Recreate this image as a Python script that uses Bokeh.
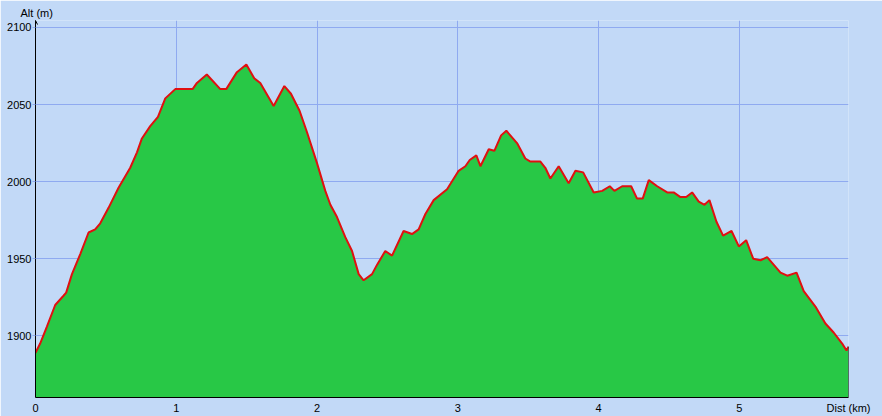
from bokeh.plotting import figure
from bokeh.models import FixedTicker, Range1d, Arrow, OpenHead
from bokeh.embed import file_html
from bokeh.resources import INLINE

dist = [0.000, 0.033, 0.081, 0.140, 0.199, 0.218, 0.259, 0.318, 0.377, 0.424,
        0.460, 0.519, 0.590, 0.673, 0.721, 0.756, 0.815, 0.870, 0.922, 0.993,
        1.116, 1.147, 1.217, 1.313, 1.355, 1.431, 1.498, 1.554, 1.597, 1.692,
        1.768, 1.815, 1.876, 1.929, 2.000, 2.059, 2.095, 2.142, 2.201, 2.249,
        2.296, 2.331, 2.391, 2.426, 2.485, 2.533, 2.615, 2.675, 2.722, 2.770,
        2.829, 2.924, 3.006, 3.054, 3.085, 3.132, 3.161, 3.220, 3.260, 3.308,
        3.345, 3.421, 3.480, 3.516, 3.587, 3.622, 3.658, 3.717, 3.788, 3.836,
        3.891, 3.966, 4.026, 4.080, 4.113, 4.168, 4.232, 4.274, 4.314, 4.357,
        4.417, 4.488, 4.534, 4.582, 4.623, 4.665, 4.712, 4.753, 4.788, 4.838,
        4.885, 4.945, 4.997, 5.049, 5.099, 5.151, 5.198, 5.293, 5.341, 5.407,
        5.458, 5.541, 5.612, 5.672, 5.731, 5.762, 5.776]
alt = [1889, 1895, 1906, 1920, 1926, 1928, 1940, 1953, 1967, 1969,
       1973, 1983, 1996, 2009, 2019, 2028, 2036, 2042, 2054, 2060,
       2060, 2064, 2069.5, 2060, 2060, 2071, 2076, 2067, 2064, 2049,
       2062, 2057, 2046, 2032, 2012, 1994, 1985, 1977, 1964, 1955,
       1940, 1936, 1940, 1946, 1955, 1952, 1968, 1966, 1969, 1979,
       1988, 1995, 2007, 2010, 2014, 2017, 2010, 2021, 2020, 2030,
       2033, 2025, 2015, 2013, 2013, 2009, 2002, 2010, 1999, 2007,
       2006, 1993, 1994, 1997, 1994, 1997, 1997, 1989, 1989, 2001,
       1997, 1993, 1993, 1990, 1990, 1993, 1987, 1985, 1988, 1974,
       1965, 1968, 1958, 1962, 1950, 1949, 1951, 1941, 1939, 1941,
       1929, 1919, 1908, 1902, 1895, 1890.5, 1893]

x_ticks = [0, 1, 2, 3, 4, 5]
y_ticks = [1900, 1950, 2000, 2050, 2100]
x_axis_title = "Dist (km)"
y_axis_title = "Alt (m)"

BG = "#C2D9F7"
GRID = "#8FAAF0"
FILL = "#28C846"
LINE = "#E01010"
FONT = "Liberation Sans"

x_max = dist[-1]
y_min = 1860
y_top = 2104.5

p = figure(width=882, height=416, output_backend="svg", toolbar_location=None,
           x_range=Range1d(0, x_max), y_range=Range1d(y_min, y_top),
           min_border_left=35, min_border_right=34, min_border_top=20,
           min_border_bottom=19)
p.background_fill_color = BG
p.border_fill_color = BG
p.outline_line_color = None

p.title.text = y_axis_title
p.title.align = "left"
p.title.offset = -15
p.title.standoff = 3
p.title.text_font = FONT
p.title.text_font_size = "11px"
p.title.text_font_style = "normal"
p.title.text_color = "black"

# grids
p.xgrid.ticker = FixedTicker(ticks=x_ticks[1:])
p.ygrid.ticker = FixedTicker(ticks=y_ticks)
for g in (p.xgrid, p.ygrid):
    g.grid_line_color = GRID
    g.grid_line_width = 1

# profile
p.varea(x=dist, y1=y_min, y2=alt, fill_color=FILL)
p.line(dist, alt, line_color=LINE, line_width=2)
p.segment(x0=[dist[-1]], y0=[y_min], x1=[dist[-1]], y1=[alt[-1]],
          line_color="black", line_width=1)

# axes
xa = p.xaxis[0]
xa.ticker = FixedTicker(ticks=x_ticks + [x_max])
xa.major_label_overrides = {x_max: x_axis_title}
xa.major_tick_out = 0
xa.major_tick_in = 0
xa.minor_tick_out = 0
xa.minor_tick_in = 0
xa.major_label_standoff = 4
xa.axis_line_color = "black"

ya = p.yaxis[0]
ya.ticker = FixedTicker(ticks=y_ticks)
ya.major_tick_out = 3
ya.major_tick_in = 0
ya.major_tick_line_color = GRID
ya.minor_tick_out = 0
ya.minor_tick_in = 0
ya.major_label_standoff = 1
ya.axis_line_color = "black"

for a in (xa, ya):
    a.major_label_text_font = FONT
    a.major_label_text_font_size = "11px"
    a.major_label_text_color = "black"

p.add_layout(Arrow(end=OpenHead(size=4, line_color="black", line_width=1),
                   x_start=0, y_start=y_ticks[-1], x_end=0, y_end=y_top,
                   line_color="black", line_width=1))

open("out.html", "w").write(file_html(p, INLINE))
